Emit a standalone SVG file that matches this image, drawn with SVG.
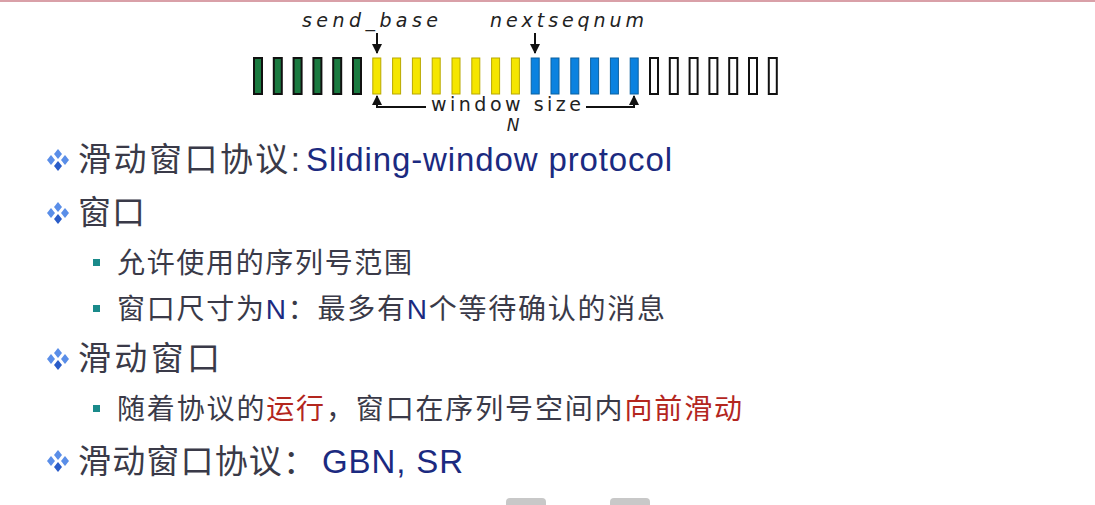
<svg xmlns="http://www.w3.org/2000/svg" width="1095" height="505" viewBox="0 0 1095 505">
<style>
.lbl{font-family:"DejaVu Sans",sans-serif;font-style:italic;font-size:19px;fill:#222}
.h{font-family:"Liberation Sans","Noto Sans CJK SC",sans-serif;font-size:33px;fill:#3a3a48}
.s{font-family:"Liberation Sans","Noto Sans CJK SC",sans-serif;font-size:28px;fill:#3a3a48}
.en{fill:#1b2a80}
.red{fill:#b3261e}
.g{fill:#1a7a40;stroke:#111;stroke-width:2}
.y{fill:#f5e600;stroke:#b8a800;stroke-width:1}
.b{fill:#0a82e0;stroke:#0a60a0;stroke-width:1}
.w{fill:#fff;stroke:#111;stroke-width:2}
.ln{stroke:#111;stroke-width:2;fill:none}
</style>
<defs>
<marker id="ah" viewBox="0 0 10 10" refX="9" refY="5" markerWidth="5" markerHeight="5" orient="auto"><path d="M0,0L10,5L0,10z" fill="#111"/></marker>
<g id="dia"><path d="M0,-5L4,0L0,5L-4,0z" fill="#5a8ee8" transform="translate(0,-6)"/><path d="M0,-5L4,0L0,5L-4,0z" fill="#5a8ee8" transform="translate(-7,0)"/><path d="M0,-5L4,0L0,5L-4,0z" fill="#5a8ee8" transform="translate(7,0)"/><path d="M0,-5L4,0L0,5L-4,0z" fill="#2a5cc8" transform="translate(0,6)"/></g>
</defs>
<rect width="1095" height="505" fill="#fff"/>
<rect width="1095" height="2" fill="#d9a0a8"/>
<g id="bars">
<rect class="g" x="254" y="58" width="8" height="36"/><rect class="g" x="273.8" y="58" width="8" height="36"/><rect class="g" x="293.6" y="58" width="8" height="36"/><rect class="g" x="313.4" y="58" width="8" height="36"/><rect class="g" x="333.2" y="58" width="8" height="36"/><rect class="g" x="353" y="58" width="8" height="36"/>
<rect class="y" x="372.8" y="58" width="8" height="36"/><rect class="y" x="392.6" y="58" width="8" height="36"/><rect class="y" x="412.4" y="58" width="8" height="36"/><rect class="y" x="432.2" y="58" width="8" height="36"/><rect class="y" x="452" y="58" width="8" height="36"/><rect class="y" x="471.8" y="58" width="8" height="36"/><rect class="y" x="491.6" y="58" width="8" height="36"/><rect class="y" x="511.4" y="58" width="8" height="36"/>
<rect class="b" x="531.2" y="58" width="8" height="36"/><rect class="b" x="551" y="58" width="8" height="36"/><rect class="b" x="570.8" y="58" width="8" height="36"/><rect class="b" x="590.6" y="58" width="8" height="36"/><rect class="b" x="610.4" y="58" width="8" height="36"/><rect class="b" x="630.2" y="58" width="8" height="36"/>
<rect class="w" x="650" y="58" width="8" height="36"/><rect class="w" x="669.8" y="58" width="8" height="36"/><rect class="w" x="689.6" y="58" width="8" height="36"/><rect class="w" x="709.4" y="58" width="8" height="36"/><rect class="w" x="729.2" y="58" width="8" height="36"/><rect class="w" x="749" y="58" width="8" height="36"/><rect class="w" x="768.8" y="58" width="8" height="36"/>
</g>
<g id="connectors">
<line class="ln" x1="377" y1="33" x2="377" y2="53" marker-end="url(#ah)"/>
<line class="ln" x1="535" y1="33" x2="535" y2="53" marker-end="url(#ah)"/>
<path class="ln" d="M426,107H377V96" marker-end="url(#ah)"/>
<path class="ln" d="M586,107H634V96" marker-end="url(#ah)"/>
</g>
<text class="lbl" x="370" y="27" text-anchor="middle" textLength="136">send_base</text>
<text class="lbl" x="567" y="27" text-anchor="middle" textLength="154">nextseqnum</text>
<text class="lbl" x="506" y="111" text-anchor="middle" textLength="150" style="font-style:normal">window size</text>
<text class="lbl" x="513" y="131" text-anchor="middle" style="font-size:17px">N</text>
<use href="#dia" x="58" y="160"/>
<text class="h" x="78" y="171"><tspan textLength="222">滑动窗口协议:</tspan> <tspan class="en" x="306" textLength="366">Sliding-window protocol</tspan></text>
<use href="#dia" x="58" y="213"/>
<text class="h" x="78" y="224" textLength="67">窗口</text>
<rect x="93" y="259" width="7" height="7" fill="#1a8a8a"/>
<text class="s" x="117" y="273" textLength="295">允许使用的序列号范围</text>
<rect x="93" y="305" width="7" height="7" fill="#1a8a8a"/>
<text class="s" x="117" y="319" textLength="548">窗口尺寸为<tspan class="en">N</tspan>：最多有<tspan class="en">N</tspan>个等待确认的消息</text>
<use href="#dia" x="58" y="359"/>
<text class="h" x="78" y="370" textLength="142">滑动窗口</text>
<rect x="93" y="405" width="7" height="7" fill="#1a8a8a"/>
<text class="s" x="117" y="419" textLength="625">随着协议的<tspan class="red">运行</tspan>，窗口在序列号空间内<tspan class="red">向前滑动</tspan></text>
<use href="#dia" x="58" y="461"/>
<text class="h" x="78" y="473"><tspan textLength="238">滑动窗口协议：</tspan><tspan class="en" x="322" textLength="141">GBN, SR</tspan></text>
<rect x="506" y="498" width="40" height="10" rx="4" fill="#c8c8c8"/>
<rect x="610" y="498" width="40" height="10" rx="4" fill="#c8c8c8"/>
</svg>
